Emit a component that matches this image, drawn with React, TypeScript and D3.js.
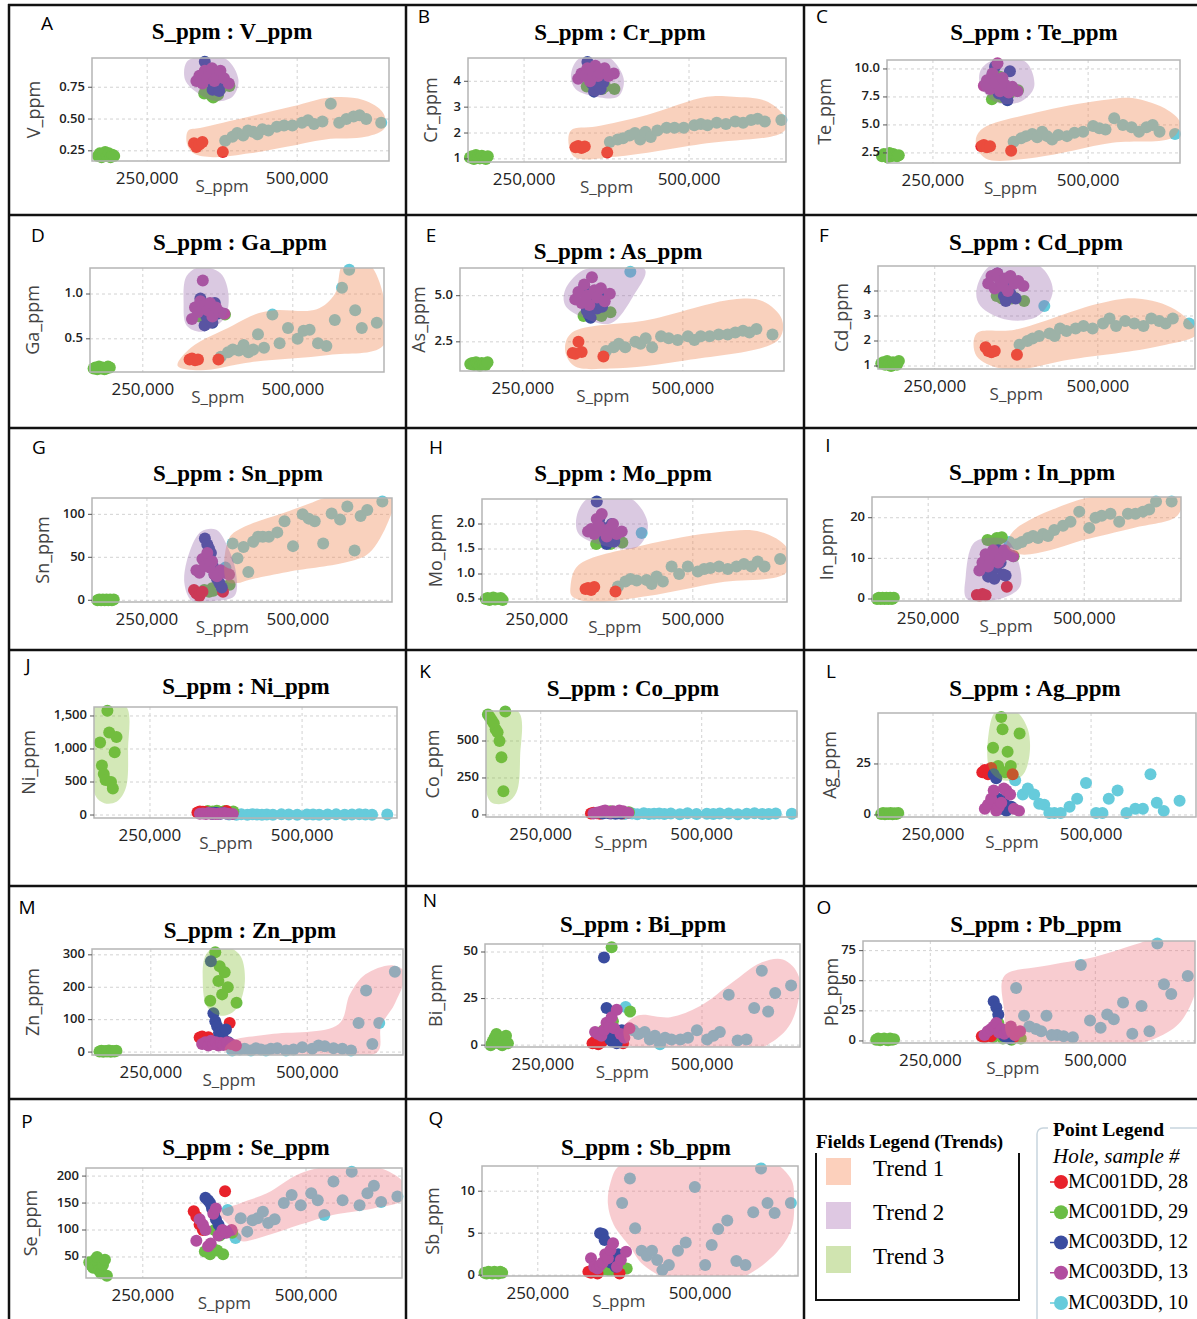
import React from "react";
import * as d3 from "d3";

// shared S_ppm values per sample group (same samples in every panel)
const S_RED = [328000, 332000, 337000, 342000, 376000];
const S_GREEN_L = [168000, 171000, 174000, 177000, 180000, 183000, 186000, 189000, 192000, 195000];
const S_GREEN_R = [345000, 353000, 358000, 360000, 364000, 368000, 373000, 387000];
const S_BLUE = [346000, 350000, 353000, 356000, 359000, 362000, 366000, 370000, 374000];
const S_MAG = [332000, 337000, 342000, 346000, 350000, 354000, 358000, 362000, 366000, 372000, 378000, 386000];
const S_CYAN = [380000, 392000, 400000, 410000, 418000, 426000, 434000, 442000, 452000, 466000, 478000, 492000,
  508000, 518000, 528000, 542000, 556000, 570000, 582000, 594000, 604000, 615000, 640000];

const X_TICKS = [250000, 500000];

// element values per panel
const V_ppm = {
  red: [0.31, 0.28, 0.30, 0.32, 0.24],
  greenL: [0.21, 0.23, 0.20, 0.22, 0.24, 0.21, 0.23, 0.20, 0.22, 0.21],
  greenR: [0.70, 0.72, 0.68, 0.67, 0.70, 0.69, 0.74, 0.76],
  blue: [0.95, 0.90, 0.82, 0.80, 0.73, 0.75, 0.85, 0.72, 0.78],
  mag: [0.80, 0.84, 0.78, 0.88, 0.82, 0.86, 0.90, 0.80, 0.84, 0.88, 0.82, 0.78],
  cyan: [0.33, 0.36, 0.39, 0.37, 0.41, 0.40, 0.38, 0.42, 0.41, 0.44, 0.45, 0.45, 0.47, 0.49, 0.46, 0.48, 0.62, 0.47, 0.50, 0.52, 0.53, 0.50, 0.47],
};
const Cr_ppm = {
  red: [1.45, 1.5, 1.42, 1.48, 1.25],
  greenL: [1.05, 1.1, 1.0, 1.15, 1.08, 1.02, 1.12, 1.05, 1.0, 1.1],
  greenR: [3.8, 3.9, 4.0, 3.75, 3.85, 3.7, 3.8, 3.7],
  blue: [4.75, 4.4, 3.9, 3.6, 4.1, 3.85, 3.7, 3.95, 4.3],
  mag: [4.1, 4.3, 4.2, 4.5, 4.0, 4.4, 4.6, 4.2, 4.3, 4.5, 4.2, 4.3],
  cyan: [1.65, 1.75, 1.8, 1.9, 2.0, 1.75, 2.05, 1.85, 2.1, 2.2, 2.2, 2.2, 2.3, 2.35, 2.3, 2.4, 2.35, 2.45, 2.4, 2.5, 2.55, 2.45, 2.5],
};
const Te_ppm = {
  red: [3.1, 3.2, 3.0, 3.1, 2.7],
  greenL: [2.2, 2.4, 2.3, 2.1, 2.5, 2.2, 2.4, 2.3, 2.2, 2.3],
  greenR: [7.3, 8.0, 9.3, 7.5, 8.2, 7.6, 7.8, 8.1],
  blue: [9.5, 10.2, 8.5, 7.8, 9.0, 8.2, 7.5, 7.2, 9.8],
  mag: [8.5, 9.0, 8.2, 9.6, 8.8, 10.5, 8.0, 9.2, 8.6, 7.9, 8.4, 8.0],
  cyan: [3.5, 3.8, 4.0, 4.2, 3.9, 4.4, 4.0, 3.7, 4.1, 4.0, 4.3, 4.4, 4.9, 4.7, 4.6, 5.6, 5.0, 4.8, 4.4, 4.8, 5.0, 4.4, 4.2],
};
const Ga_ppm = {
  red: [0.27, 0.28, 0.26, 0.27, 0.27],
  greenL: [0.17, 0.18, 0.16, 0.19, 0.17, 0.18, 0.16, 0.17, 0.19, 0.18],
  greenR: [0.75, 0.8, 0.78, 0.76, 0.82, 0.79, 0.8, 0.77],
  blue: [0.95, 0.85, 0.65, 0.75, 0.8, 0.7, 0.68, 0.9, 0.78],
  mag: [0.72, 0.85, 0.8, 0.92, 1.15, 0.88, 0.82, 0.9, 0.75, 0.85, 0.8, 0.78],
  cyan: [0.30, 0.35, 0.38, 0.37, 0.43, 0.35, 0.38, 0.55, 0.40, 0.77, 0.45, 0.62, 0.50, 0.59, 0.60, 0.45, 0.42, 0.71, 1.07, 1.27, 0.82, 0.62, 0.68],
};
const As_ppm = {
  red: [1.9, 1.85, 2.5, 1.95, 1.7],
  greenL: [1.3, 1.35, 1.25, 1.4, 1.3, 1.2, 1.35, 1.3, 1.25, 1.4],
  greenR: [3.9, 4.0, 4.1, 3.95, 4.2, 4.0, 3.9, 4.1],
  blue: [5.5, 4.2, 4.0, 3.8, 5.0, 4.6, 4.3, 5.2, 4.4],
  mag: [4.8, 5.2, 4.6, 5.6, 5.0, 4.5, 6.0, 5.3, 4.9, 5.4, 4.7, 5.1],
  cyan: [2.0, 2.2, 2.4, 2.2, 6.3, 2.5, 2.4, 2.7, 2.2, 2.8, 2.7, 2.6, 2.8, 2.6, 2.8, 2.8, 2.9, 2.9, 3.0, 3.1, 3.0, 3.2, 2.9],
};
const Cd_ppm = {
  red: [1.75, 1.6, 1.55, 1.6, 1.45],
  greenL: [1.1, 1.15, 1.05, 1.2, 1.1, 1.0, 1.15, 1.1, 1.05, 1.2],
  greenR: [3.8, 3.7, 3.75, 3.65, 3.8, 3.7, 3.72, 3.6],
  blue: [4.7, 4.5, 4.2, 3.8, 3.6, 4.1, 3.9, 4.4, 3.7],
  mag: [4.3, 4.6, 4.1, 4.7, 4.4, 4.2, 4.5, 4.0, 4.6, 4.3, 4.4, 4.2],
  cyan: [1.85, 2.0, 2.1, 2.2, 3.4, 2.3, 2.2, 2.5, 2.4, 2.5, 2.6, 2.5, 2.7, 2.9, 2.6, 2.8, 2.7, 2.6, 2.9, 2.8, 2.7, 2.9, 2.7],
};
const Sn_ppm = {
  red: [12, 8, 5, 10, 10],
  greenL: [0, 1, 0, 1, 0, 1, 0, 1, 0, 1],
  greenR: [12, 10, 14, 11, 15, 13, 16, 18],
  blue: [72, 65, 60, 55, 40, 30, 25, 20, 15],
  mag: [35, 32, 48, 40, 55, 38, 45, 30, 28, 35, 32, 30],
  cyan: [38, 66, 49, 62, 33, 68, 74, 74, 74, 79, 92, 63, 100, 95, 92, 66, 101, 94, 109, 58, 98, 105, 115],
};
const Mo_ppm = {
  red: [0.7, 0.72, 0.68, 0.74, 0.65],
  greenL: [0.5, 0.52, 0.48, 0.5, 0.53, 0.49, 0.51, 0.5, 0.52, 0.48],
  greenR: [1.6, 1.65, 1.7, 1.62, 1.68, 1.6, 1.72, 1.63],
  blue: [2.45, 2.1, 1.95, 1.85, 1.7, 1.6, 1.75, 2.0, 1.65],
  mag: [1.85, 1.9, 1.8, 2.1, 1.95, 2.2, 1.85, 1.75, 1.9, 2.0, 1.8, 1.85],
  cyan: [0.75, 0.85, 0.9, 0.87, 1.82, 0.88, 0.8, 0.95, 0.85, 1.15, 1.0, 1.15, 1.05, 1.1, 1.12, 1.15, 1.1, 1.15, 1.2, 1.15, 1.25, 1.15, 1.3],
};
const In_ppm = {
  red: [1.0, 0.8, 1.2, 0.9, 3.0],
  greenL: [0, 0.3, 0, 0.3, 0, 0.3, 0, 0.3, 0, 0.3],
  greenR: [14.5, 14.2, 13.8, 15, 14.8, 15.2, 11, 10.5],
  blue: [5.5, 6.5, 7, 5, 8, 12, 9, 6, 5.8],
  mag: [7, 9, 11, 8, 10, 12, 11, 9, 10, 12, 11, 10.5],
  cyan: [14, 13.5, 14, 15, 15.5, 15, 16, 15.5, 17, 18, 19, 21.5, 17.5, 20, 20.5, 21, 19, 21, 21, 21.5, 22, 24, 24],
};
const Ni_ppm = {
  red: [40, 55, 50, 45, 60],
  greenL: [1100, 750, 620, 530, 1580, 1250, 500, 400, 950, 1180],
  greenR: [60, 55, 50, 65, 50, 45, 60, 55],
  blue: [30, 25, 20, 35, 30, 25, 20, 30, 25],
  mag: [20, 25, 15, 30, 20, 25, 15, 20, 25, 30, 20, 15],
  cyan: [8, 5, 10, 6, 12, 7, 5, 9, 6, 10, 8, 5, 7, 9, 6, 8, 10, 5, 7, 12, 9, 6, 8],
};
const Co_ppm = {
  red: [10, 15, 12, 8, 10],
  greenL: [680, 660, 640, 620, 580, 560, 500, 390, 160, 700],
  greenR: [15, 20, 25, 18, 22, 20, 15, 18],
  blue: [10, 15, 20, 12, 10, 15, 8, 12, 10],
  mag: [10, 15, 20, 25, 30, 20, 15, 25, 20, 30, 25, 15],
  cyan: [6, 9, 5, 11, 7, 8, 10, 6, 9, 5, 12, 7, 8, 6, 10, 9, 5, 8, 11, 7, 6, 9, 8],
};
const Ag_ppm = {
  red: [21, 22, 20, 23, 20],
  greenL: [0.5, 1, 0.3, 0.8, 0.5, 1, 0.3, 0.8, 0.5, 1],
  greenR: [33, 24, 48, 42, 21, 31, 24, 40],
  blue: [20, 18, 8, 5, 3, 6, 2, 10, 4],
  mag: [3, 5, 8, 12, 2, 4, 6, 13, 12, 10, 3, 2],
  cyan: [17, 10, 13, 10, 5.5, 5, 1, 1, 1, 4, 8, 15.7, 1, 1, 8, 12, 1, 3, 3, 20, 6, 2, 7],
};
const Zn_ppm = {
  red: [45, 48, 42, 46, 90],
  greenL: [2, 4, 1, 3, 2, 5, 1, 3, 2, 4],
  greenR: [158, 308, 219, 265, 178, 246, 200, 152],
  blue: [280, 120, 95, 80, 60, 50, 40, 70, 30],
  mag: [25, 30, 20, 35, 25, 30, 20, 28, 22, 30, 25, 20],
  cyan: [5, 8, 10, 5, 12, 8, 5, 10, 12, 5, 8, 15, 10, 20, 18, 12, 10, 5, 90, 190, 25, 90, 248],
};
const Bi_ppm = {
  red: [1, 2, 0.5, 1.5, 1],
  greenL: [0, 2, 4, 6, 1, 3, 0, 2, 5, 1],
  greenR: [8, 5, 52.6, 12.8, 2, 6, 3, 18],
  blue: [47, 20, 5, 3, 2, 4, 1, 6, 8],
  mag: [7, 6, 5, 8, 12, 10, 15, 9, 19, 6, 4, 9],
  cyan: [20.5, 8, 6, 7, 3, 5, 0.5, 4, 3, 3, 4, 8, 3, 5, 7, 27, 2.5, 3, 20, 40, 18, 28, 32],
};
const Pb_ppm = {
  red: [4, 3, 5, 4, 3],
  greenL: [1, 2, 0.5, 1.5, 2, 1, 0.5, 2, 1, 1.5],
  greenR: [3, 15, 5, 2, 8, 3, 1, 2],
  blue: [33, 28, 22, 10, 6, 4, 8, 2, 5],
  mag: [5, 8, 10, 12, 15, 7, 10, 6, 9, 12, 5, 8],
  cyan: [44, 21, 12, 10, 8, 21, 5, 5, 4, 3, 63, 17, 11, 22, 18, 32, 6, 29, 8, 81, 47, 39, 54],
};
const Se_ppm = {
  red: [135, 125, 110, 100, 172],
  greenL: [40, 35, 30, 45, 50, 25, 20, 35, 45, 15],
  greenR: [60, 55, 65, 100, 62, 90, 55, 95],
  blue: [160, 155, 150, 140, 130, 120, 110, 100, 95],
  mag: [80, 120, 110, 100, 70, 75, 130, 140, 90, 100, 95, 100],
  cyan: [137, 85, 122, 97, 118, 122, 134, 113, 120, 150, 165, 146, 168, 155, 128, 190, 155, 208, 146, 168, 182, 152, 162],
};
const Sb_ppm = {
  red: [0.4, 0.3, 0.5, 0.2, 0.2],
  greenL: [0.3, 0.2, 0.4, 0.3, 0.2, 0.4, 0.3, 0.2, 0.4, 0.3],
  greenR: [0.5, 0.8, 0.6, 0.7, 0.6, 0.9, 0.7, 0.8],
  blue: [5.0, 4.9, 4.2, 2.0, 1.8, 1.5, 2.2, 1.0, 2.5],
  mag: [2.0, 1.0, 0.8, 1.2, 1.5, 2.5, 2.0, 3.0, 3.8, 1.0, 1.8, 2.8],
  cyan: [8.6, 11.5, 5.6, 2.9, 2.3, 2.9, 1.8, 0.6, 1.2, 2.9, 3.9, 10.5, 1.2, 3.6, 5.5, 6.5, 1.7, 1.2, 7.5, 12.7, 8.6, 7.4, 8.6],
};

// field outlines [S_ppm, value], trend id
const V_fields = [
  { trend: 1, pts: [[316000, 0.31], [318500, 0.41], [338000, 0.43], [421000, 0.52], [493000, 0.60], [555000, 0.67], [610000, 0.65], [643000, 0.55], [646000, 0.43], [614000, 0.36], [547000, 0.34], [480000, 0.28], [421000, 0.23], [360000, 0.20], [327000, 0.23]] },
  { trend: 2, pts: [[316000, 0.95], [338000, 0.99], [382000, 0.97], [402000, 0.81], [393000, 0.68], [365000, 0.64], [335000, 0.70], [313000, 0.81]] },
];
const Cr_fields = [
  { trend: 1, pts: [[321000, 2.1], [359000, 2.25], [436000, 2.7], [527000, 3.4], [567000, 3.4], [620000, 3.2], [650000, 2.4], [640000, 2.0], [527000, 1.6], [389000, 1.08], [328000, 1.05], [318000, 1.5]] },
  { trend: 2, pts: [[321000, 4.2], [332000, 4.85], [374000, 5.0], [401000, 4.1], [392000, 3.4], [351000, 3.45], [328000, 3.7]] },
];
const Te_fields = [
  { trend: 1, pts: [[319000, 3.4], [327000, 4.55], [416000, 6.1], [522000, 7.2], [571000, 7.4], [629000, 6.3], [648000, 5.2], [637000, 3.9], [539000, 3.4], [416000, 2.1], [335000, 2.0]] },
  { trend: 2, pts: [[327000, 9.9], [352000, 10.9], [400000, 10.6], [413000, 8.4], [392000, 7.1], [352000, 7.0], [327000, 8.4]] },
];
const Ga_fields = [
  { trend: 1, pts: [[308000, 0.2], [330000, 0.4], [400000, 0.65], [440000, 0.78], [470000, 0.82], [540000, 0.83], [570000, 1.0], [585000, 1.35], [625000, 1.35], [655000, 0.85], [650000, 0.42], [560000, 0.32], [430000, 0.24], [345000, 0.15]] },
  { trend: 2, pts: [[323000, 1.2], [345000, 1.3], [380000, 1.23], [393000, 0.98], [385000, 0.72], [348000, 0.58], [323000, 0.65], [318000, 0.9]] },
];
const As_fields = [
  { trend: 1, pts: [[316000, 2.1], [327000, 3.0], [447000, 3.7], [578000, 4.8], [625000, 4.7], [655000, 3.7], [649000, 2.6], [506000, 1.5], [387000, 1.05], [330000, 1.2]] },
  { trend: 2, pts: [[316000, 5.3], [340000, 6.3], [375000, 6.6], [441000, 6.4], [423000, 5.0], [387000, 3.5], [339000, 3.9], [316000, 4.5]] },
];
const Cd_fields = [
  { trend: 1, pts: [[314000, 2.3], [373000, 2.45], [502000, 3.5], [560000, 3.7], [619000, 3.25], [652000, 2.3], [595000, 1.8], [455000, 1.25], [361000, 0.85], [314000, 1.4]] },
  { trend: 2, pts: [[314000, 4.05], [337000, 5.05], [408000, 5.05], [431000, 4.05], [408000, 3.0], [361000, 2.85], [320000, 3.4]] },
];
const Sn_fields = [
  { trend: 1, pts: [[382000, 22], [386000, 72], [413000, 86], [470000, 100], [517000, 112], [551000, 120], [660000, 122], [650000, 92], [618000, 55], [585000, 45], [483000, 33], [420000, 24], [400000, 20]] },
  { trend: 2, pts: [[312000, 20], [320000, 55], [340000, 80], [365000, 82], [385000, 60], [398000, 30], [395000, 5], [360000, -1], [325000, -1]] },
];
const Mo_fields = [
  { trend: 1, pts: [[304000, 0.76], [316000, 1.17], [419000, 1.57], [543000, 1.84], [609000, 1.84], [652000, 1.5], [650000, 1.03], [543000, 0.83], [428000, 0.56], [337000, 0.44], [306000, 0.56]] },
  { trend: 2, pts: [[316000, 2.25], [337000, 2.55], [402000, 2.5], [428000, 1.98], [411000, 1.54], [353000, 1.58], [316000, 1.82]] },
];
const In_fields = [
  { trend: 1, pts: [[376000, 12.8], [387000, 16.8], [472000, 23.4], [526000, 25.5], [600000, 26], [656000, 25], [649000, 20.5], [579000, 17.5], [498000, 14.5], [445000, 12], [397000, 11]] },
  { trend: 2, pts: [[310000, 5.4], [322000, 13.6], [344000, 15], [376000, 14.5], [394000, 9.5], [397000, 3.0], [365000, 0], [312000, 0]] },
];
const Ni_fields = [
  { trend: 3, pts: [[160000, 1650], [210000, 1650], [214000, 1000], [210000, 400], [195000, 200], [175000, 180], [160000, 300], [158000, 1000]] },
];
const Co_fields = [
  { trend: 3, pts: [[162000, 700], [215000, 700], [218000, 400], [212000, 150], [195000, 80], [172000, 90], [162000, 300]] },
];
const Ag_fields = [
  { trend: 3, pts: [[338000, 40], [350000, 51], [380000, 51], [400000, 42], [402000, 28], [390000, 19], [360000, 17], [340000, 22]] },
];
const Zn_fields = [
  { trend: 3, pts: [[338000, 300], [360000, 330], [392000, 300], [400000, 210], [385000, 130], [362000, 112], [340000, 140], [333000, 220]] },
  { trend: 4, pts: [[368000, 8], [380000, 35], [440000, 55], [550000, 86], [568000, 178], [593000, 240], [636000, 268], [656000, 245], [640000, 150], [618000, 80], [612000, 0], [500000, -10], [380000, -10]] },
];
const Bi_fields = [
  { trend: 4, pts: [[378000, 10], [400000, 16], [450000, 15], [497000, 21], [549000, 34], [591000, 44], [627000, 46], [652000, 37], [640000, 12], [602000, 0], [560000, -4], [480000, -3], [400000, -2], [380000, 2]] },
];
const Pb_fields = [
  { trend: 4, pts: [[362000, 54], [420000, 62], [500000, 70], [560000, 80], [610000, 88], [655000, 80], [655000, 48], [640000, 25], [622000, 12], [580000, 0], [530000, -3], [450000, -3], [370000, 2], [362000, 25]] },
];
const Se_fields = [
  { trend: 4, pts: [[368000, 132], [400000, 150], [440000, 168], [491000, 205], [547000, 220], [600000, 220], [648000, 190], [652000, 158], [603000, 140], [541000, 128], [491000, 110], [440000, 90], [399000, 80], [385000, 105]] },
];
const Sb_fields = [
  { trend: 4, pts: [[358000, 8.5], [362000, 11], [375000, 13], [430000, 14], [520000, 14], [600000, 14], [640000, 11.5], [645000, 9], [640000, 5.3], [609000, 2], [557000, -0.5], [480000, -1.3], [413000, 1.2], [393000, 3.3], [367000, 6]] },
];

const Y_TICKS: Record<string, number[]> = {
  V: [0.25, 0.5, 0.75], Cr: [1, 2, 3, 4], Te: [2.5, 5, 7.5, 10], Ga: [0.5, 1], As: [2.5, 5], Cd: [1, 2, 3, 4],
  Sn: [0, 50, 100], Mo: [0.5, 1, 1.5, 2], In: [0, 10, 20], Ni: [0, 500, 1000, 1500], Co: [0, 250, 500], Ag: [0, 25],
  Zn: [0, 100, 200, 300], Bi: [0, 25, 50], Pb: [0, 25, 50, 75], Se: [50, 100, 150, 200], Sb: [0, 5, 10],
};

const SERIES = [
  { key: "cyan", color: "#66cbdb", s: S_CYAN },
  { key: "greenL", color: "#6bbd45", s: S_GREEN_L },
  { key: "greenR", color: "#6bbd45", s: S_GREEN_R },
  { key: "red", color: "#e8222b", s: S_RED },
  { key: "blue", color: "#3a4c9f", s: S_BLUE },
  { key: "mag", color: "#b24e9f", s: S_MAG },
];

const FIELD_FILL: Record<number, string> = {
  1: "rgba(240,140,90,0.4)",
  2: "rgba(150,100,170,0.35)",
  3: "rgba(130,190,50,0.35)",
  4: "rgba(235,110,120,0.35)",
};

// layout: box [l,t,r,b], x/y domains, title, letter, y-title offset
const PANELS = [
  { id: "A", el: "V", data: V_ppm, fields: V_fields, fmt: ".2f", box: [92, 58, 389, 161], xd: [158000, 653000], yd: [0.17, 0.98], tt: [232, 34], lt: [47, 25], ydx: -57 },
  { id: "B", el: "Cr", data: Cr_ppm, fields: Cr_fields, fmt: "d", box: [468, 58, 786, 162], xd: [165000, 647000], yd: [0.88, 4.9], tt: [620, 35], lt: [424, 18], ydx: -36 },
  { id: "C", el: "Te", data: Te_ppm, fields: Te_fields, fmt: ".1f", box: [887, 60, 1180, 163], xd: [176000, 648000], yd: [1.6, 10.8], tt: [1034, 35], lt: [822, 18], ydx: -61 },
  { id: "D", el: "Ga", data: Ga_ppm, fields: Ga_fields, fmt: ".1f", box: [90, 268, 384, 372], xd: [162000, 652000], yd: [0.13, 1.29], tt: [240, 245], lt: [38, 237], ydx: -56 },
  { id: "E", el: "As", data: As_ppm, fields: As_fields, fmt: ".1f", box: [460, 268, 784, 371], xd: [152000, 658000], yd: [0.92, 6.5], tt: [618, 254], lt: [431, 237], ydx: -40 },
  { id: "F", el: "Cd", data: Cd_ppm, fields: Cd_fields, fmt: "d", box: [878, 266, 1195, 369], xd: [163000, 649000], yd: [0.88, 5.0], tt: [1036, 245], lt: [824, 237], ydx: -35 },
  { id: "G", el: "Sn", data: Sn_ppm, fields: Sn_fields, fmt: "d", box: [92, 498, 392, 602], xd: [159000, 656000], yd: [-2, 119], tt: [238, 476], lt: [39, 449], ydx: -48 },
  { id: "H", el: "Mo", data: Mo_ppm, fields: Mo_fields, fmt: ".1f", box: [482, 499, 787, 602], xd: [162000, 651000], yd: [0.44, 2.5], tt: [623, 476], lt: [436, 449], ydx: -45 },
  { id: "I", el: "In", data: In_ppm, fields: In_fields, fmt: "d", box: [872, 497, 1181, 601], xd: [160000, 655000], yd: [-0.5, 25.1], tt: [1032, 475], lt: [828, 447], ydx: -44 },
  { id: "J", el: "Ni", data: Ni_ppm, fields: Ni_fields, fmt: ",", box: [94, 707, 397, 818], xd: [158000, 656000], yd: [-45, 1636], tt: [246, 689], lt: [28, 667], ydx: -64 },
  { id: "K", el: "Co", data: Co_ppm, fields: Co_fields, fmt: "d", box: [486, 711, 797, 817], xd: [165000, 648000], yd: [-14, 703], tt: [633, 691], lt: [425, 673], ydx: -52 },
  { id: "L", el: "Ag", data: Ag_ppm, fields: Ag_fields, fmt: "d", box: [878, 713, 1196, 817], xd: [163000, 666000], yd: [-1, 50], tt: [1035, 691], lt: [831, 673], ydx: -47 },
  { id: "M", el: "Zn", data: Zn_ppm, fields: Zn_fields, fmt: "d", box: [92, 949, 403, 1055], xd: [156000, 653000], yd: [-9, 318], tt: [250, 933], lt: [27, 909], ydx: -58 },
  { id: "N", el: "Bi", data: Bi_ppm, fields: Bi_fields, fmt: "d", box: [485, 944, 800, 1047], xd: [159000, 654000], yd: [-1, 54.3], tt: [643, 927], lt: [430, 902], ydx: -48 },
  { id: "O", el: "Pb", data: Pb_ppm, fields: Pb_fields, fmt: "d", box: [863, 941, 1195, 1043], xd: [148000, 651000], yd: [-1.7, 83], tt: [1036, 927], lt: [824, 909], ydx: -30 },
  { id: "P", el: "Se", data: Se_ppm, fields: Se_fields, fmt: "d", box: [86, 1168, 402, 1278], xd: [163000, 647000], yd: [11, 215], tt: [246, 1150], lt: [27, 1123], ydx: -54 },
  { id: "Q", el: "Sb", data: Sb_ppm, fields: Sb_fields, fmt: "d", box: [482, 1166, 798, 1276], xd: [164000, 651000], yd: [-0.1, 13], tt: [646, 1150], lt: [436, 1120], ydx: -48 },
];

const SANS = "'Open Sans', 'Noto Sans', sans-serif";
const SERIF = "'Liberation Serif', 'Times New Roman', serif";

function Panel({ p }: { p: any }) {
  const [l, t, r, b] = p.box;
  const x = d3.scaleLinear().domain(p.xd).range([l, r]);
  const y = d3.scaleLinear().domain(p.yd).range([b, t]);
  const fmt = d3.format(p.fmt);
  const xfmt = d3.format(",");
  const blob = d3.line<number[]>()
    .x(d => x(d[0]))
    .y(d => y(d[1]))
    .curve(d3.curveCatmullRomClosed.alpha(0.5));
  const yTicks = Y_TICKS[p.el];
  const clipId = `clip-${p.id}`;
  const midX = (x(X_TICKS[0]) + x(X_TICKS[1])) / 2;
  return (
    <g>
      <defs>
        <clipPath id={clipId}>
          <rect x={l} y={t} width={r - l} height={b - t} />
        </clipPath>
      </defs>
      <text x={p.lt[0]} y={p.lt[1]} fontFamily={SANS} fontSize={19} dominantBaseline="middle" textAnchor="middle">{p.id}</text>
      <text x={p.tt[0]} y={p.tt[1]} fontFamily={SERIF} fontSize={23} fontWeight="bold" dominantBaseline="middle" textAnchor="middle">
        {`S_ppm : ${p.el}_ppm`}
      </text>
      {X_TICKS.map(v => (
        <line key={"gx" + v} x1={x(v)} x2={x(v)} y1={t} y2={b} stroke="#d2d2d2" strokeDasharray="3,3" />
      ))}
      {yTicks.map(v => (
        <line key={"gy" + v} x1={l} x2={r} y1={y(v)} y2={y(v)} stroke="#d2d2d2" strokeDasharray="3,3" />
      ))}
      {SERIES.map(s =>
        p.data[s.key].map((v: number, i: number) => (
          <circle key={s.key + i} cx={x(s.s[i])} cy={y(v)} r={6} fill={s.color} />
        ))
      )}
      <g clipPath={`url(#${clipId})`}>
        {p.fields.map((f: any, i: number) => (
          <path key={i} d={blob(f.pts) || ""} fill={FIELD_FILL[f.trend]} />
        ))}
      </g>
      <rect x={l} y={t} width={r - l} height={b - t} fill="none" stroke="#b5b5b5" strokeWidth={1.5} />
      {yTicks.map(v => (
        <g key={"ty" + v}>
          <line x1={l - 4} x2={l} y1={y(v)} y2={y(v)} stroke="#555" />
          <text x={l - 7} y={y(v)} fontFamily={SANS} fontSize={13} fontWeight={600} fill="#222" textAnchor="end" dominantBaseline="middle">
            {fmt(v)}
          </text>
        </g>
      ))}
      {X_TICKS.map(v => (
        <text key={"tx" + v} x={x(v)} y={b + 18} fontFamily={SANS} fontSize={17} fill="#222" textAnchor="middle" dominantBaseline="middle">
          {xfmt(v)}
        </text>
      ))}
      <text x={midX} y={b + 26} fontFamily={SANS} fontSize={17} fill="#444" textAnchor="middle" dominantBaseline="middle">S_ppm</text>
      <text transform={`translate(${l + p.ydx},${(t + b) / 2}) rotate(-90)`} fontFamily={SANS} fontSize={18} fill="#444" textAnchor="middle" dominantBaseline="middle">
        {`${p.el}_ppm`}
      </text>
    </g>
  );
}

const TRENDS = [
  { name: "Trend 1", color: "#fcd0bc" },
  { name: "Trend 2", color: "#dec8e2" },
  { name: "Trend 3", color: "#d0e4b0" },
];
const HOLES = [
  { name: "MC001DD, 28", color: "#e8222b" },
  { name: "MC001DD, 29", color: "#6bbd45" },
  { name: "MC003DD, 12", color: "#3a4c9f" },
  { name: "MC003DD, 13", color: "#b24e9f" },
  { name: "MC003DD, 10", color: "#66cbdb" },
];

function Legends() {
  const trendY = d3.scalePoint<string>().domain(TRENDS.map(d => d.name)).range([1171, 1259]);
  const holeY = d3.scalePoint<string>().domain(HOLES.map(d => d.name)).range([1182, 1303]);
  return (
    <g>
      <text x={816} y={1148} fontFamily={SERIF} fontSize={19} fontWeight="bold">Fields Legend (Trends)</text>
      <path d="M816,1153 V1300 H1019 V1153" fill="none" stroke="#111" strokeWidth={2} />
      {TRENDS.map(d => (
        <g key={d.name}>
          <rect x={826} y={trendY(d.name)! - 13} width={25} height={27} fill={d.color} />
          <text x={873} y={trendY(d.name)} fontFamily={SERIF} fontSize={23} dominantBaseline="middle">{d.name}</text>
        </g>
      ))}
      <rect x={1037} y={1128} width={200} height={220} rx={6} fill="none" stroke="#c8d5de" strokeWidth={1.5} />
      <rect x={1048} y={1118} width={122} height={20} fill="#fff" />
      <text x={1053} y={1136} fontFamily={SERIF} fontSize={19.5} fontWeight="bold">Point Legend</text>
      <text x={1053} y={1158} fontFamily={SERIF} fontSize={21} fontStyle="italic" dominantBaseline="middle">Hole, sample #</text>
      {HOLES.map(d => (
        <g key={d.name}>
          <line x1={1050} x2={1061} y1={holeY(d.name)} y2={holeY(d.name)} stroke={d.color} strokeWidth={1.5} />
          <circle cx={1061} cy={holeY(d.name)} r={7} fill={d.color} />
          <text x={1068} y={holeY(d.name)! + 1} fontFamily={SERIF} fontSize={20} dominantBaseline="middle">{d.name}</text>
        </g>
      ))}
    </g>
  );
}

const COL_LINES = [9, 406, 804];
const ROW_LINES = [5, 215, 428, 650, 886, 1099];

export default function App() {
  return (
    <svg width={1197} height={1319} style={{ position: "absolute", left: 0, top: 0 }}>
      <rect width={1197} height={1319} fill="#fff" />
      {PANELS.map(p => <Panel key={p.id} p={p} />)}
      {COL_LINES.map(v => <line key={"c" + v} x1={v} x2={v} y1={4} y2={1319} stroke="#111" strokeWidth={2.5} />)}
      {ROW_LINES.map(v => <line key={"r" + v} x1={8} x2={1197} y1={v} y2={v} stroke="#111" strokeWidth={2.5} />)}
      <Legends />
    </svg>
  );
}
